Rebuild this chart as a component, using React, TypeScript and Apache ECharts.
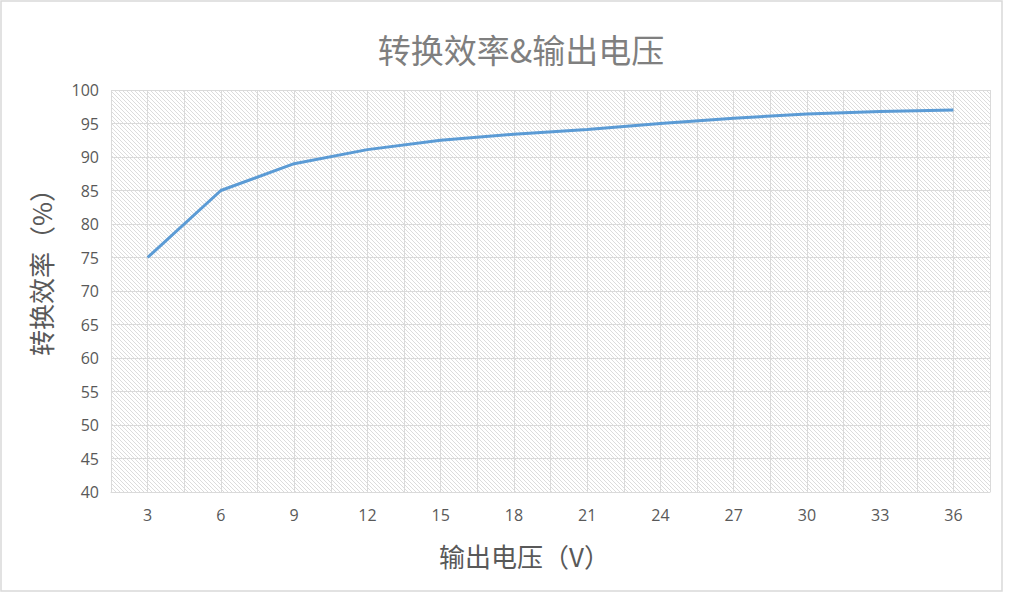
import React, { useEffect, useRef } from 'react';
import * as echarts from 'echarts';

const titleText = '转换效率&输出电压';
const xAxisName = '输出电压（V）';
const yAxisName = '转换效率（%）';
const categories = ['3', '6', '9', '12', '15', '18', '21', '24', '27', '30', '33', '36'];
const efficiency = [75.0, 85.0, 89.0, 91.1, 92.5, 93.4, 94.1, 95.0, 95.8, 96.4, 96.8, 97.0];
const halfSlots = ['', '', '', '', '', '', '', '', '', '', '', '', '', '', '', '', '', '', '', '', '', '', '', ''];
const yMin = 40;
const yMax = 100;
const yStep = 5;

function makePattern(): string {
  const c = document.createElement('canvas');
  c.width = 8;
  c.height = 8;
  const ctx = c.getContext('2d') as CanvasRenderingContext2D;
  ctx.fillStyle = '#ffffff';
  ctx.fillRect(0, 0, 8, 8);
  ctx.fillStyle = '#dcdcdc';
  for (let y = 0; y < 8; y++) {
    for (let x = 0; x < 8; x++) {
      if ((((x - y) % 4) + 4) % 4 === 0) ctx.fillRect(x, y, 1, 1);
    }
  }
  return c.toDataURL();
}

export default function App() {
  const ref = useRef<HTMLDivElement>(null);
  useEffect(() => {
    document.body.style.margin = '0';
    if (!ref.current) return;
    const chart = echarts.init(ref.current, null, { renderer: 'svg' });
    const font = '"Noto Sans CJK SC", "Noto Sans", sans-serif';
    const gridColor = '#dadada';
    chart.setOption({
      animation: false,
      backgroundColor: '#ffffff',
      title: {
        text: titleText,
        left: 516,
        textAlign: 'center',
        top: 27,
        textStyle: { fontFamily: font, fontSize: 33, fontWeight: 'normal', color: '#7f7f7f' },
      },
      graphic: [
        {
          type: 'rect',
          shape: { x: 1, y: 1, width: 1001, height: 590 },
          style: { fill: 'none', stroke: '#d9d9d9', lineWidth: 1.5 },
          silent: true,
          z: -10,
        },
      ],
      grid: {
        left: 111,
        right: 19,
        top: 90,
        bottom: 101,
        show: true,
        borderWidth: 0,
        backgroundColor: { image: makePattern(), repeat: 'repeat', imageWidth: 8, imageHeight: 8 },
      },
      xAxis: [
        {
          type: 'category',
          data: categories,
          boundaryGap: true,
          name: xAxisName,
          nameLocation: 'middle',
          nameGap: 50,
          nameTextStyle: { fontFamily: font, fontSize: 26, color: '#595959', padding: [0, 52, 0, 0] },
          axisLine: { show: true, lineStyle: { color: gridColor, width: 1 } },
          axisTick: { show: false },
          axisLabel: { fontFamily: '"Open Sans", sans-serif', fontSize: 16, color: '#595959', margin: 15 },
          splitLine: { show: false },
          z: 3,
        },
        {
          type: 'category',
          data: halfSlots,
          boundaryGap: true,
          position: 'bottom',
          axisLine: { show: false },
          axisTick: { show: false },
          axisLabel: { show: false },
          splitLine: { show: true, interval: 0, lineStyle: { color: gridColor, width: 1 } },
        },
      ],
      yAxis: {
        type: 'value',
        min: yMin,
        max: yMax,
        interval: yStep,
        name: yAxisName,
        nameLocation: 'middle',
        nameRotate: 90,
        nameGap: 58,
        nameTextStyle: { fontFamily: font, fontSize: 26, color: '#595959', padding: [0, 0, 0, 50] },
        axisLine: { show: false },
        axisTick: { show: false },
        axisLabel: { fontFamily: '"Open Sans", sans-serif', fontSize: 16, color: '#595959', margin: 12 },
        splitLine: { show: true, lineStyle: { color: gridColor, width: 1 } },
      },
      series: [
        {
          type: 'line',
          xAxisIndex: 0,
          data: efficiency,
          symbol: 'none',
          lineStyle: { color: '#5b9bd5', width: 3 },
          itemStyle: { color: '#5b9bd5' },
          z: 5,
        },
      ],
    });
    return () => chart.dispose();
  }, []);
  return <div ref={ref} style={{ width: 1009, height: 593 }} />;
}
